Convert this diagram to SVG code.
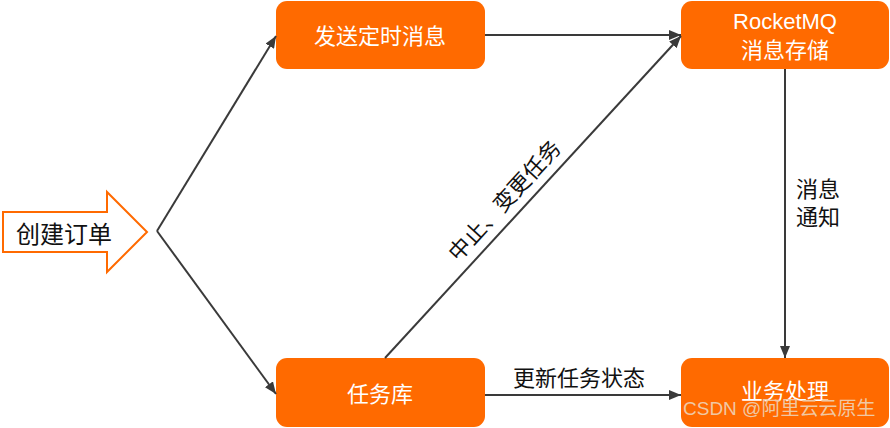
<svg xmlns="http://www.w3.org/2000/svg" width="890" height="428" viewBox="0 0 890 428">
<style>
.box{fill:#FF6A00;}
.bt{fill:#ffffff;font-family:"Liberation Sans","Noto Sans CJK SC",sans-serif;font-size:22px;text-anchor:middle;dominant-baseline:central;}
.lt{fill:#111111;font-family:"Noto Sans CJK SC",sans-serif;font-size:22px;text-anchor:middle;dominant-baseline:central;}
.ln{stroke:#3a3a3a;stroke-width:2;fill:none;}
.wm{fill:#f0c8a4;font-family:"Liberation Sans","Noto Sans CJK SC",sans-serif;font-size:19px;}
</style>
<defs>
<marker id="ah" viewBox="0 0 12 10" refX="12" refY="5" markerWidth="12" markerHeight="10" markerUnits="userSpaceOnUse" orient="auto">
<path d="M0,0 L12,5 L0,10 Z" fill="#3a3a3a"/>
</marker>
</defs>
<rect width="890" height="428" fill="#ffffff"/>
<g id="create-order">
<path d="M3,212 L107,212 L107,192 L147,232 L107,272 L107,252 L3,252 Z" fill="#ffffff" stroke="#FF6A00" stroke-width="2"/>
<text class="lt" x="64" y="232" style="font-size:24px">创建订单</text>
</g>
<g id="send-timed-msg">
<rect class="box" x="276" y="1" width="209" height="68" rx="11"/>
<text class="bt" x="380" y="36">发送定时消息</text>
</g>
<g id="rocketmq">
<rect class="box" x="681" y="1" width="208" height="68" rx="11"/>
<text class="bt" x="785" y="21">RocketMQ</text>
<text class="bt" x="785" y="50">消息存储</text>
</g>
<g id="task-db">
<rect class="box" x="276" y="358" width="209" height="69" rx="11"/>
<text class="bt" x="380" y="394">任务库</text>
</g>
<g id="biz-process">
<rect class="box" x="681" y="358" width="208" height="69" rx="11"/>
<text class="bt" x="785" y="391">业务处理</text>
</g>
<g id="connectors">
<path class="ln" d="M157,231 L276,36" marker-end="url(#ah)"/>
<path class="ln" d="M157,231 L276,394" marker-end="url(#ah)"/>
<path class="ln" d="M485,35 L681,35" marker-end="url(#ah)"/>
<path class="ln" d="M385,358 L681,36" marker-end="url(#ah)"/>
<path class="ln" d="M785,69 L785,358" marker-end="url(#ah)"/>
<path class="ln" d="M485,395 L681,395" marker-end="url(#ah)"/>
<text class="lt" x="579" y="376">更新任务状态</text>
<text class="lt" x="818" y="187">消息</text>
<text class="lt" x="818" y="215">通知</text>
<text class="lt" transform="translate(503,199) rotate(-47.5)" x="0" y="0">中止、变更任务</text>
</g>
<text class="wm" x="683" y="415">CSDN @阿里云云原生</text>
</svg>
